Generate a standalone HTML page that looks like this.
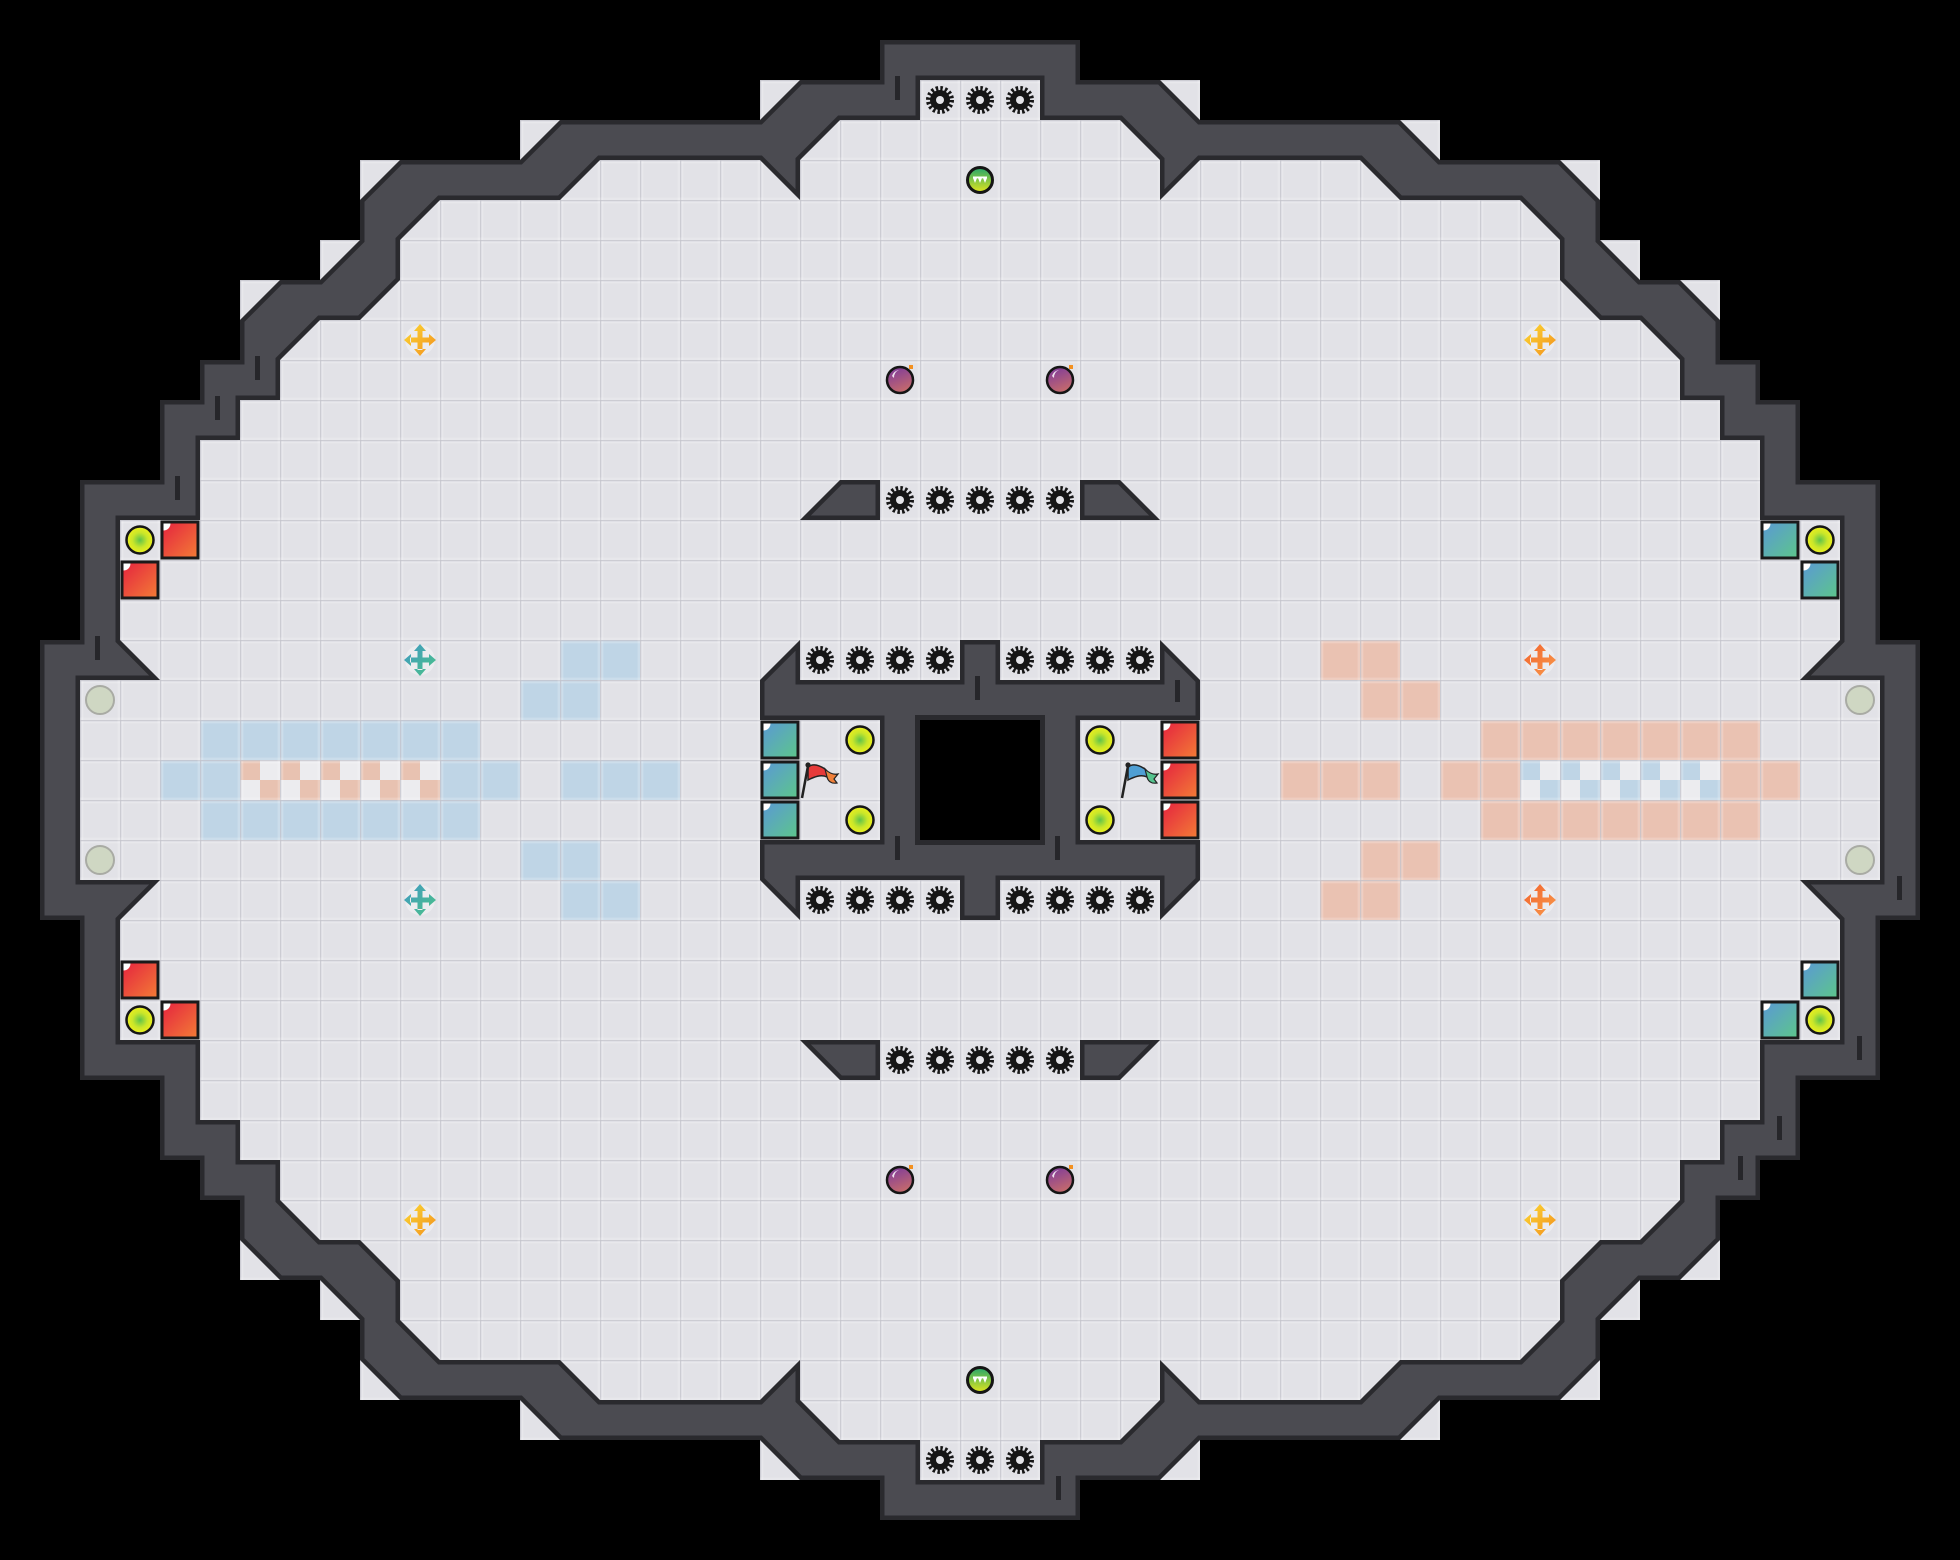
<!DOCTYPE html>
<html>
<head>
<meta charset="utf-8">
<style>
html,body{margin:0;padding:0;background:#000;width:1960px;height:1560px;overflow:hidden}
svg{display:block}
</style>
</head>
<body>
<svg width="1960" height="1560" viewBox="0 0 1960 1560" xmlns="http://www.w3.org/2000/svg">
<defs>
  <pattern id="grid" x="0" y="0" width="40" height="40" patternUnits="userSpaceOnUse">
    <rect x="0" y="0" width="40" height="1.3" fill="#c4c4cc" opacity="0.75"/>
    <rect x="0" y="0" width="1.3" height="40" fill="#c4c4cc" opacity="0.75"/>
    <rect x="1.3" y="1.3" width="38.7" height="2" fill="#ffffff" opacity="0.22"/>
    <rect x="1.3" y="1.3" width="2" height="38.7" fill="#ffffff" opacity="0.22"/>
    <rect x="0" y="37.6" width="40" height="2.4" fill="#ffffff" opacity="0.18"/>
    <rect x="37.6" y="0" width="2.4" height="40" fill="#ffffff" opacity="0.18"/>
  </pattern>
  <pattern id="chkS" x="0" y="0" width="40" height="40" patternUnits="userSpaceOnUse">
    <rect width="40" height="40" fill="#ececef"/>
    <rect x="0" y="0" width="20" height="20" fill="#e8c2b1"/>
    <rect x="20" y="20" width="20" height="20" fill="#e8c2b1"/>
  </pattern>
  <pattern id="chkB" x="0" y="0" width="40" height="40" patternUnits="userSpaceOnUse">
    <rect width="40" height="40" fill="#ececef"/>
    <rect x="0" y="0" width="20" height="20" fill="#bfd5e6"/>
    <rect x="20" y="20" width="20" height="20" fill="#bfd5e6"/>
  </pattern>

  <linearGradient id="gRed" x1="0" y1="0" x2="1" y2="1"><stop offset="0" stop-color="#e4223f"/><stop offset="1" stop-color="#f37d36"/></linearGradient>
  <linearGradient id="gBlue" x1="0" y1="0" x2="1" y2="1"><stop offset="0" stop-color="#5a98d6"/><stop offset="1" stop-color="#5dc68a"/></linearGradient>
  <radialGradient id="gLime"><stop offset="0" stop-color="#5fc34a"/><stop offset="0.55" stop-color="#c9e62a"/><stop offset="1" stop-color="#eef01c"/></radialGradient>
  <linearGradient id="gGreen" x1="0" y1="0" x2="0" y2="1"><stop offset="0" stop-color="#25a66c"/><stop offset="1" stop-color="#e2e51c"/></linearGradient>
  <linearGradient id="gBomb" x1="0.2" y1="0" x2="0.6" y2="1"><stop offset="0" stop-color="#7d3a9c"/><stop offset="1" stop-color="#c86c6a"/></linearGradient>
  <linearGradient id="gCY" x1="0" y1="0" x2="1" y2="1"><stop offset="0" stop-color="#fcd934"/><stop offset="1" stop-color="#f28f1e"/></linearGradient>
  <linearGradient id="gCT" x1="0" y1="0" x2="1" y2="1"><stop offset="0" stop-color="#3f98c6"/><stop offset="1" stop-color="#4cc386"/></linearGradient>
  <linearGradient id="gCO" x1="0" y1="0" x2="1" y2="1"><stop offset="0" stop-color="#f2622c"/><stop offset="1" stop-color="#f89a4c"/></linearGradient>

  <g id="gear">
    <circle r="10" fill="#161616"/>
    <circle r="11.6" fill="none" stroke="#161616" stroke-width="4.8" stroke-dasharray="2.4 2.155"/>
    <circle r="4" fill="#e4e4e8"/>
  </g>
  <g id="bomb">
    <circle r="13" fill="url(#gBomb)" stroke="#151515" stroke-width="2.5"/>
    <path d="M-8,-4 A9,9 0 0 1 -1,-10 A8,8 0 0 0 -6,-2 Z" fill="#ffffff" opacity="0.85"/>
    <rect x="9" y="-15" width="4" height="4" fill="#f39020"/>
  </g>
  <g id="gball">
    <circle r="12.5" fill="url(#gGreen)" stroke="#151515" stroke-width="3"/>
    <rect x="-7" y="-3.5" width="14" height="1.8" fill="#ffffff"/>
    <path d="M-7,-2 L-3,-2 L-5,3 Z M-2,-2 L2,-2 L0,3 Z M3,-2 L7,-2 L5,3 Z" fill="#ffffff"/>
  </g>
  <g id="lime"><circle r="13.5" fill="url(#gLime)" stroke="#151515" stroke-width="2.5"/></g>
  <g id="grayc"><circle r="14" fill="#cfd7c3" stroke="#a9aba4" stroke-width="2"/></g>
  <g id="sqR">
    <rect x="2" y="2" width="36" height="36" fill="url(#gRed)" stroke="#1a1a1a" stroke-width="3"/>
    <path d="M3.5,3.5 H10.5 A7,7 0 0 1 3.5,10.5 Z" fill="#ffffff"/>
  </g>
  <g id="sqB">
    <rect x="2" y="2" width="36" height="36" fill="url(#gBlue)" stroke="#1a1a1a" stroke-width="3"/>
    <path d="M3.5,3.5 H10.5 A7,7 0 0 1 3.5,10.5 Z" fill="#ffffff"/>
  </g>
  <path id="crossP" d="M-2.5,-10 H2.5 V-2.5 H10 V2.5 H2.5 V10 H-2.5 V2.5 H-10 V-2.5 H-2.5 Z M-6,-9 L0,-16 L6,-9 Z M-6,9 L0,16 L6,9 Z M-9,-6 L-16,0 L-9,6 Z M9,-6 L16,0 L9,6 Z"/>
  <g id="flagR">
    <path d="M8,7 C13,3 19,5 25,9 C28,12 29,14 27,17 C21,14 14,17 8,20 Z" fill="#e63a3a" stroke="#222" stroke-width="1.5"/>
    <path d="M25,9 C29,13 33,15 38,14 L34,19 L37,23 C31,24 28,21 27,17 Z" fill="#f0803a" stroke="#222" stroke-width="1.2"/>
    <line x1="2" y1="38" x2="8" y2="6" stroke="#222" stroke-width="2.5"/>
    <circle cx="8" cy="5" r="2.6" fill="#222"/>
  </g>
  <g id="flagB">
    <path d="M8,7 C13,3 19,5 25,9 C28,12 29,14 27,17 C21,14 14,17 8,20 Z" fill="#4f9fd4" stroke="#222" stroke-width="1.5"/>
    <path d="M25,9 C29,13 33,15 38,14 L34,19 L37,23 C31,24 28,21 27,17 Z" fill="#55c38e" stroke="#222" stroke-width="1.2"/>
    <line x1="2" y1="38" x2="8" y2="6" stroke="#222" stroke-width="2.5"/>
    <circle cx="8" cy="5" r="2.6" fill="#222"/>
  </g>

  <clipPath id="cpRing">
    <path clip-rule="evenodd" d="M880,40 L880,80 L800,80 L760,120 L560,120 L520,160 L400,160 L360,200 L360,240 L320,280 L280,280 L240,320 L240,360 L200,360 L200,400 L160,400 L160,480 L80,480 L80,640 L40,640 L40,920 L80,920 L80,1080 L160,1080 L160,1160 L200,1160 L200,1200 L240,1200 L240,1240 L280,1280 L320,1280 L360,1320 L360,1360 L400,1400 L520,1400 L560,1440 L760,1440 L800,1480 L880,1480 L880,1520 L1080,1520 L1080,1480 L1160,1480 L1200,1440 L1400,1440 L1440,1400 L1560,1400 L1600,1360 L1600,1320 L1640,1280 L1680,1280 L1720,1240 L1720,1200 L1760,1200 L1760,1160 L1800,1160 L1800,1080 L1880,1080 L1880,920 L1920,920 L1920,640 L1880,640 L1880,480 L1800,480 L1800,400 L1760,400 L1760,360 L1720,360 L1720,320 L1680,280 L1640,280 L1600,240 L1600,200 L1560,160 L1440,160 L1400,120 L1200,120 L1160,80 L1080,80 L1080,40 Z M920,80 L920,120 L840,120 L800,160 L800,200 L760,160 L600,160 L560,200 L440,200 L400,240 L400,280 L360,320 L320,320 L280,360 L280,400 L240,400 L240,440 L200,440 L200,520 L120,520 L120,640 L160,680 L80,680 L80,880 L160,880 L120,920 L120,1040 L200,1040 L200,1120 L240,1120 L240,1160 L280,1160 L280,1200 L320,1240 L360,1240 L400,1280 L400,1320 L440,1360 L560,1360 L600,1400 L760,1400 L800,1360 L800,1400 L840,1440 L920,1440 L920,1480 L1040,1480 L1040,1440 L1120,1440 L1160,1400 L1160,1360 L1200,1400 L1360,1400 L1400,1360 L1520,1360 L1560,1320 L1560,1280 L1600,1240 L1640,1240 L1680,1200 L1680,1160 L1720,1160 L1720,1120 L1760,1120 L1760,1040 L1840,1040 L1840,920 L1800,880 L1880,880 L1880,680 L1800,680 L1840,640 L1840,520 L1760,520 L1760,440 L1720,440 L1720,400 L1680,400 L1680,360 L1640,320 L1600,320 L1560,280 L1560,240 L1520,200 L1400,200 L1360,160 L1200,160 L1160,200 L1160,160 L1120,120 L1040,120 L1040,80 Z"/>
  </clipPath>
  <clipPath id="cpC">
    <path d="M800,640 L800,680 L960,680 L960,640 L1000,640 L1000,680 L1160,680 L1160,640 L1200,680 L1200,720 L1080,720 L1080,840 L1200,840 L1200,880 L1160,920 L1160,880 L1000,880 L1000,920 L960,920 L960,880 L800,880 L800,920 L760,880 L760,840 L880,840 L880,720 L760,720 L760,680 Z M840,480 L880,480 L880,520 L800,520 Z M1080,480 L1120,480 L1160,520 L1080,520 Z M800,1040 L880,1040 L880,1080 L840,1080 Z M1080,1040 L1160,1040 L1120,1080 L1080,1080 Z"/>
  </clipPath>
</defs>

<rect x="0" y="0" width="1960" height="1560" fill="#000"/>

<!-- floor base -->
<path fill="#e2e2e7" d="M880,40 L880,80 L760,80 L760,120 L520,120 L520,160 L360,160 L360,240 L320,240 L320,280 L240,280 L240,360 L200,360 L200,400 L160,400 L160,480 L80,480 L80,640 L40,640 L40,920 L80,920 L80,1080 L160,1080 L160,1160 L200,1160 L200,1200 L240,1200 L240,1280 L320,1280 L320,1320 L360,1320 L360,1400 L520,1400 L520,1440 L760,1440 L760,1480 L880,1480 L880,1520 L1080,1520 L1080,1480 L1200,1480 L1200,1440 L1440,1440 L1440,1400 L1600,1400 L1600,1320 L1640,1320 L1640,1280 L1720,1280 L1720,1200 L1760,1200 L1760,1160 L1800,1160 L1800,1080 L1880,1080 L1880,920 L1920,920 L1920,640 L1880,640 L1880,480 L1800,480 L1800,400 L1760,400 L1760,360 L1720,360 L1720,280 L1640,280 L1640,240 L1600,240 L1600,160 L1440,160 L1440,120 L1200,120 L1200,80 L1080,80 L1080,40 Z"/>

<!-- blue zone (left) -->
<g fill="#bfd5e6">
  <rect x="560" y="640" width="80" height="40"/>
  <rect x="520" y="680" width="80" height="40"/>
  <rect x="200" y="720" width="280" height="40"/>
  <rect x="160" y="760" width="360" height="40"/>
  <rect x="560" y="760" width="120" height="40"/>
  <rect x="200" y="800" width="280" height="40"/>
  <rect x="520" y="840" width="80" height="40"/>
  <rect x="560" y="880" width="80" height="40"/>
</g>
<rect x="240" y="760" width="200" height="40" fill="url(#chkS)"/>

<!-- salmon zone (right) -->
<g fill="#eac2b2">
  <rect x="1320" y="640" width="80" height="40"/>
  <rect x="1360" y="680" width="80" height="40"/>
  <rect x="1480" y="720" width="280" height="40"/>
  <rect x="1440" y="760" width="360" height="40"/>
  <rect x="1280" y="760" width="120" height="40"/>
  <rect x="1480" y="800" width="280" height="40"/>
  <rect x="1360" y="840" width="80" height="40"/>
  <rect x="1320" y="880" width="80" height="40"/>
</g>
<rect x="1520" y="760" width="200" height="40" fill="url(#chkB)"/>

<!-- grid overlay -->
<path fill="url(#grid)" d="M880,40 L880,80 L760,80 L760,120 L520,120 L520,160 L360,160 L360,240 L320,240 L320,280 L240,280 L240,360 L200,360 L200,400 L160,400 L160,480 L80,480 L80,640 L40,640 L40,920 L80,920 L80,1080 L160,1080 L160,1160 L200,1160 L200,1200 L240,1200 L240,1280 L320,1280 L320,1320 L360,1320 L360,1400 L520,1400 L520,1440 L760,1440 L760,1480 L880,1480 L880,1520 L1080,1520 L1080,1480 L1200,1480 L1200,1440 L1440,1440 L1440,1400 L1600,1400 L1600,1320 L1640,1320 L1640,1280 L1720,1280 L1720,1200 L1760,1200 L1760,1160 L1800,1160 L1800,1080 L1880,1080 L1880,920 L1920,920 L1920,640 L1880,640 L1880,480 L1800,480 L1800,400 L1760,400 L1760,360 L1720,360 L1720,280 L1640,280 L1640,240 L1600,240 L1600,160 L1440,160 L1440,120 L1200,120 L1200,80 L1080,80 L1080,40 Z"/>

<!-- outer wall ring -->
<path fill="#4b4b51" fill-rule="evenodd" stroke="#2a2a2e" stroke-width="9" stroke-linejoin="miter" clip-path="url(#cpRing)" d="M880,40 L880,80 L800,80 L760,120 L560,120 L520,160 L400,160 L360,200 L360,240 L320,280 L280,280 L240,320 L240,360 L200,360 L200,400 L160,400 L160,480 L80,480 L80,640 L40,640 L40,920 L80,920 L80,1080 L160,1080 L160,1160 L200,1160 L200,1200 L240,1200 L240,1240 L280,1280 L320,1280 L360,1320 L360,1360 L400,1400 L520,1400 L560,1440 L760,1440 L800,1480 L880,1480 L880,1520 L1080,1520 L1080,1480 L1160,1480 L1200,1440 L1400,1440 L1440,1400 L1560,1400 L1600,1360 L1600,1320 L1640,1280 L1680,1280 L1720,1240 L1720,1200 L1760,1200 L1760,1160 L1800,1160 L1800,1080 L1880,1080 L1880,920 L1920,920 L1920,640 L1880,640 L1880,480 L1800,480 L1800,400 L1760,400 L1760,360 L1720,360 L1720,320 L1680,280 L1640,280 L1600,240 L1600,200 L1560,160 L1440,160 L1400,120 L1200,120 L1160,80 L1080,80 L1080,40 Z M920,80 L920,120 L840,120 L800,160 L800,200 L760,160 L600,160 L560,200 L440,200 L400,240 L400,280 L360,320 L320,320 L280,360 L280,400 L240,400 L240,440 L200,440 L200,520 L120,520 L120,640 L160,680 L80,680 L80,880 L160,880 L120,920 L120,1040 L200,1040 L200,1120 L240,1120 L240,1160 L280,1160 L280,1200 L320,1240 L360,1240 L400,1280 L400,1320 L440,1360 L560,1360 L600,1400 L760,1400 L800,1360 L800,1400 L840,1440 L920,1440 L920,1480 L1040,1480 L1040,1440 L1120,1440 L1160,1400 L1160,1360 L1200,1400 L1360,1400 L1400,1360 L1520,1360 L1560,1320 L1560,1280 L1600,1240 L1640,1240 L1680,1200 L1680,1160 L1720,1160 L1720,1120 L1760,1120 L1760,1040 L1840,1040 L1840,920 L1800,880 L1880,880 L1880,680 L1800,680 L1840,640 L1840,520 L1760,520 L1760,440 L1720,440 L1720,400 L1680,400 L1680,360 L1640,320 L1600,320 L1560,280 L1560,240 L1520,200 L1400,200 L1360,160 L1200,160 L1160,200 L1160,160 L1120,120 L1040,120 L1040,80 Z"/>

<!-- center box + bars -->
<path fill="#4b4b51" stroke="#2a2a2e" stroke-width="9" clip-path="url(#cpC)" d="M800,640 L800,680 L960,680 L960,640 L1000,640 L1000,680 L1160,680 L1160,640 L1200,680 L1200,720 L1080,720 L1080,840 L1200,840 L1200,880 L1160,920 L1160,880 L1000,880 L1000,920 L960,920 L960,880 L800,880 L800,920 L760,880 L760,840 L880,840 L880,720 L760,720 L760,680 Z M840,480 L880,480 L880,520 L800,520 Z M1080,480 L1120,480 L1160,520 L1080,520 Z M800,1040 L880,1040 L880,1080 L840,1080 Z M1080,1040 L1160,1040 L1120,1080 L1080,1080 Z"/>
<rect x="915" y="715" width="130" height="130" fill="#2a2a2e"/>
<rect x="920" y="720" width="120" height="120" fill="#000"/>

<!-- wall notches -->
<g fill="#26262a">
  <rect x="895" y="76" width="5" height="24"/>
  <rect x="255" y="356" width="5" height="24"/>
  <rect x="215" y="396" width="5" height="24"/>
  <rect x="175" y="476" width="5" height="24"/>
  <rect x="95" y="636" width="5" height="24"/>
  <rect x="975" y="676" width="5" height="24"/>
  <rect x="1175" y="680" width="5" height="22"/>
  <rect x="895" y="836" width="5" height="24"/>
  <rect x="1055" y="836" width="5" height="24"/>
  <rect x="1897" y="876" width="5" height="24"/>
  <rect x="1857" y="1036" width="5" height="24"/>
  <rect x="1777" y="1116" width="5" height="24"/>
  <rect x="1738" y="1156" width="5" height="24"/>
  <rect x="1056" y="1476" width="5" height="24"/>
</g>

<!-- gears -->
<use href="#gear" x="940" y="100"/><use href="#gear" x="980" y="100"/><use href="#gear" x="1020" y="100"/>
<use href="#gear" x="940" y="1460"/><use href="#gear" x="980" y="1460"/><use href="#gear" x="1020" y="1460"/>
<use href="#gear" x="900" y="500"/><use href="#gear" x="940" y="500"/><use href="#gear" x="980" y="500"/><use href="#gear" x="1020" y="500"/><use href="#gear" x="1060" y="500"/>
<use href="#gear" x="900" y="1060"/><use href="#gear" x="940" y="1060"/><use href="#gear" x="980" y="1060"/><use href="#gear" x="1020" y="1060"/><use href="#gear" x="1060" y="1060"/>
<use href="#gear" x="820" y="660"/><use href="#gear" x="860" y="660"/><use href="#gear" x="900" y="660"/><use href="#gear" x="940" y="660"/>
<use href="#gear" x="1020" y="660"/><use href="#gear" x="1060" y="660"/><use href="#gear" x="1100" y="660"/><use href="#gear" x="1140" y="660"/>
<use href="#gear" x="820" y="900"/><use href="#gear" x="860" y="900"/><use href="#gear" x="900" y="900"/><use href="#gear" x="940" y="900"/>
<use href="#gear" x="1020" y="900"/><use href="#gear" x="1060" y="900"/><use href="#gear" x="1100" y="900"/><use href="#gear" x="1140" y="900"/>

<!-- green balls -->
<use href="#gball" x="980" y="180"/>
<use href="#gball" x="980" y="1380"/>

<!-- bombs -->
<use href="#bomb" x="900" y="380"/><use href="#bomb" x="1060" y="380"/>
<use href="#bomb" x="900" y="1180"/><use href="#bomb" x="1060" y="1180"/>

<!-- crosses -->
<g transform="translate(420,340)"><circle r="15" fill="#ffffff" opacity="0.35"/><use href="#crossP" fill="url(#gCY)"/></g>
<g transform="translate(1540,340)"><circle r="15" fill="#ffffff" opacity="0.35"/><use href="#crossP" fill="url(#gCY)"/></g>
<g transform="translate(420,1220)"><circle r="15" fill="#ffffff" opacity="0.35"/><use href="#crossP" fill="url(#gCY)"/></g>
<g transform="translate(1540,1220)"><circle r="15" fill="#ffffff" opacity="0.35"/><use href="#crossP" fill="url(#gCY)"/></g>
<g transform="translate(420,660)"><circle r="15" fill="#ffffff" opacity="0.35"/><use href="#crossP" fill="url(#gCT)"/></g>
<g transform="translate(420,900)"><circle r="15" fill="#ffffff" opacity="0.35"/><use href="#crossP" fill="url(#gCT)"/></g>
<g transform="translate(1540,660)"><circle r="15" fill="#ffffff" opacity="0.35"/><use href="#crossP" fill="url(#gCO)"/></g>
<g transform="translate(1540,900)"><circle r="15" fill="#ffffff" opacity="0.35"/><use href="#crossP" fill="url(#gCO)"/></g>

<!-- lime circles -->
<use href="#lime" x="140" y="540"/><use href="#lime" x="140" y="1020"/>
<use href="#lime" x="860" y="740"/><use href="#lime" x="860" y="820"/>
<use href="#lime" x="1100" y="740"/><use href="#lime" x="1100" y="820"/>
<use href="#lime" x="1820" y="540"/><use href="#lime" x="1820" y="1020"/>

<!-- gray circles -->
<use href="#grayc" x="100" y="700"/><use href="#grayc" x="100" y="860"/>
<use href="#grayc" x="1860" y="700"/><use href="#grayc" x="1860" y="860"/>

<!-- red squares -->
<use href="#sqR" x="160" y="520"/><use href="#sqR" x="120" y="560"/>
<use href="#sqR" x="120" y="960"/><use href="#sqR" x="160" y="1000"/>
<use href="#sqR" x="1160" y="720"/><use href="#sqR" x="1160" y="760"/><use href="#sqR" x="1160" y="800"/>

<!-- blue squares -->
<use href="#sqB" x="1760" y="520"/><use href="#sqB" x="1800" y="560"/>
<use href="#sqB" x="1800" y="960"/><use href="#sqB" x="1760" y="1000"/>
<use href="#sqB" x="760" y="720"/><use href="#sqB" x="760" y="760"/><use href="#sqB" x="760" y="800"/>

<!-- flags -->
<use href="#flagR" x="800" y="760"/>
<use href="#flagB" x="1120" y="760"/>
</svg>
</body>
</html>
